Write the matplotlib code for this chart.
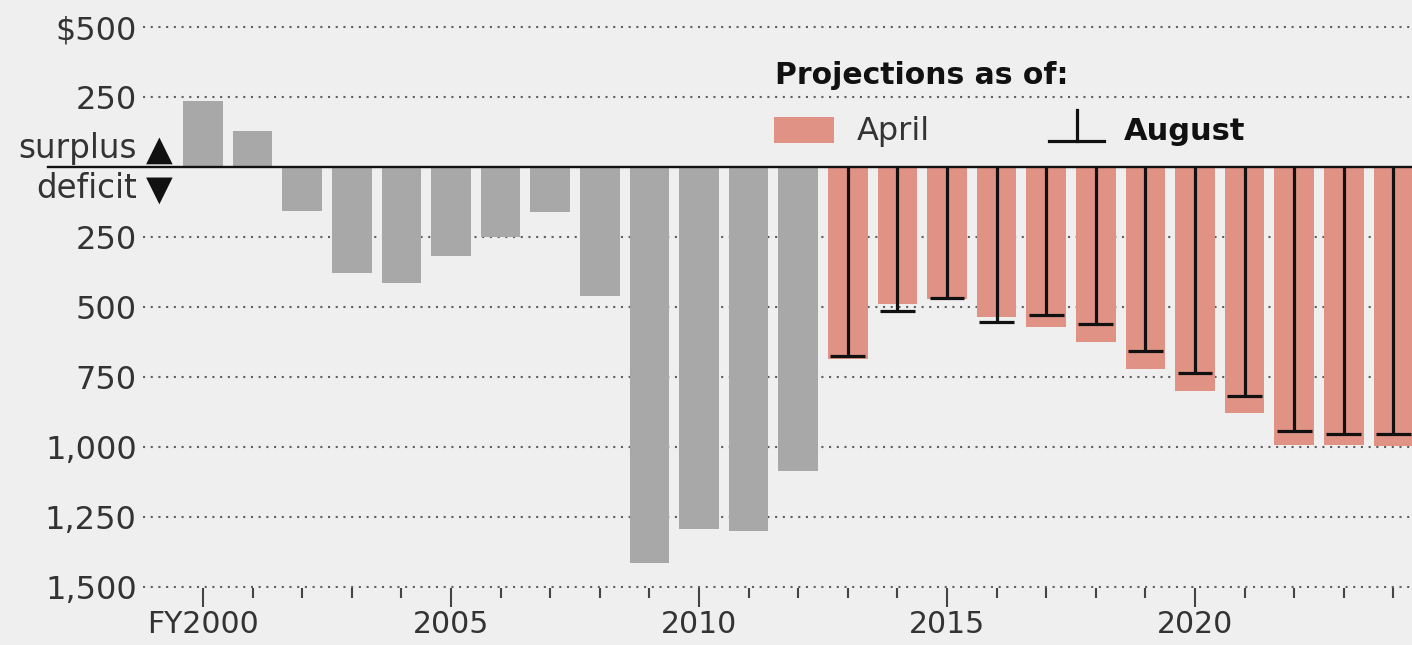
import matplotlib
matplotlib.use("Agg")
import matplotlib.pyplot as plt
from matplotlib.patches import Rectangle
from matplotlib.lines import Line2D
import numpy as np

plt.rcParams['font.family'] = ['DejaVu Sans']

# ---- data (billions of dollars; positive = surplus, negative = deficit) ----
years_actual = [2000, 2001, 2002, 2003, 2004, 2005, 2006, 2007, 2008, 2009, 2010, 2011, 2012]
actual = [236, 128, -158, -378, -413, -318, -248, -161, -459, -1413, -1294, -1300, -1087]

years_proj = [2013, 2014, 2015, 2016, 2017, 2018, 2019, 2020, 2021, 2022, 2023, 2024]
april = [-684, -490, -472, -537, -572, -623, -720, -800, -879, -991, -993, -997]
august = [-676, -515, -469, -552, -527, -560, -657, -735, -818, -941, -953, -953]

y_ticks = [500, 250, -250, -500, -750, -1000, -1250, -1500]
y_tick_labels = ['$500', '250', '250', '500', '750', '1,000', '1,250', '1,500']
x_major = [2000, 2005, 2010, 2015, 2020]
x_major_labels = ['FY2000', '2005', '2010', '2015', '2020']
x_minor = list(range(2000, 2025))

BG = '#efefef'
GRAY = '#a8a8a8'
RED = '#e09285'

W, H = 1412, 645
fig = plt.figure(figsize=(W / 100, H / 100), dpi=100, facecolor=BG)
ax = fig.add_axes([143 / W, (H - 588) / H, (W - 143) / W, (588 - 20) / H])
ax.set_facecolor(BG)

px_per_year = 49.6
ax.set_xlim(2000 - 60 / px_per_year, 2000 + (W - 203) / px_per_year)
ax.set_ylim(-1503, 525)

for s in ax.spines.values():
    s.set_visible(False)

ax.bar(years_actual, actual, width=0.8, color=GRAY, zorder=2)
ax.bar(years_proj, april, width=0.8, color=RED, zorder=2)
yp = np.array(years_proj)
ax.vlines(yp, 0, august, color='#111111', linewidth=2.3, zorder=4)
ax.hlines(august, yp - 0.35, yp + 0.35, color='#111111', linewidth=2.3, zorder=4)

# zero line extending left under the surplus/deficit label
ax.axhline(0, xmin=(48 - 143) / (W - 143), xmax=1, color='#111111', linewidth=1.7,
           zorder=5, clip_on=False)

ax.set_yticks(y_ticks)
ax.set_yticklabels(y_tick_labels)
ax.yaxis.grid(True, color='#5f5f5f', linestyle=(0, (1, 2.7)), linewidth=1.5)
ax.set_axisbelow(True)
ax.tick_params(axis='y', length=0, pad=4.5, labelsize=23, labelcolor='#333333')

ax.set_xticks(x_major)
ax.set_xticklabels(x_major_labels)
ax.set_xticks(x_minor, minor=True)
ax.tick_params(axis='x', which='major', length=13.5, width=1.5, color='#444444',
               pad=2.5, labelsize=21.5, labelcolor='#333333')
ax.tick_params(axis='x', which='minor', length=7, width=1.5, color='#444444')

# surplus / deficit labels
def fx(x):
    return x / W

def fy(y):
    return 1 - y / H

fig.text(fx(137), fy(158), 'surplus', ha='right', va='baseline', fontsize=23.5, color='#333333')
fig.text(fx(137), fy(198), 'deficit', ha='right', va='baseline', fontsize=23.5, color='#333333')
fig.text(fx(146), fy(160), '\u25B2', ha='left', va='baseline', fontsize=25, color='#111111')
fig.text(fx(146), fy(200), '\u25BC', ha='left', va='baseline', fontsize=25, color='#111111')

# legend
fig.text(fx(775), fy(84), 'Projections as of:', ha='left', va='baseline', fontsize=21.5,
         fontweight='bold', color='#111111')
fig.patches.append(Rectangle((fx(774), fy(143)), fx(60), 26 / H, transform=fig.transFigure,
                             facecolor=RED, edgecolor='none'))
fig.text(fx(857), fy(140), 'April', ha='left', va='baseline', fontsize=23, color='#333333')
fig.lines.append(Line2D([fx(1077), fx(1077)], [fy(110), fy(141)], transform=fig.transFigure,
                        color='#111111', linewidth=2.3))
fig.lines.append(Line2D([fx(1049), fx(1104)], [fy(141), fy(141)], transform=fig.transFigure,
                        color='#111111', linewidth=2.3))
fig.text(fx(1124), fy(140), 'August', ha='left', va='baseline', fontsize=22,
         fontweight='bold', color='#111111')

fig.savefig('out.png', dpi=100, facecolor=BG)
